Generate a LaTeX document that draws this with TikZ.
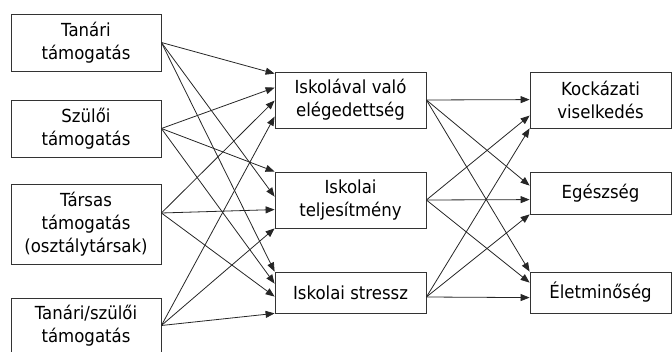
\documentclass[tikz,border=0pt]{standalone}
\usepackage{fontspec}
\setmainfont{DejaVu Sans}[FakeStretch=0.92]
\usetikzlibrary{arrows.meta}
\begin{document}
\begin{tikzpicture}[x=1pt,y=-1pt,
  box/.style={draw=black!80, line width=0.8pt, align=center, inner sep=0pt,
    font=\fontsize{18}{23}\selectfont, text=black},
  lbox/.style={box, minimum width=150pt},
  mbox/.style={box, minimum width=151pt},
  rbox/.style={box, minimum width=141pt},
  arr/.style={draw=black!85, line width=0.8pt, -{Triangle[length=9pt,width=7pt]}},
]
\useasboundingbox (0,0) rectangle (672,352);
% left column
\node[lbox, minimum height=57pt] (L1) at (86,42.5) {Tanári\\támogatás};
\node[lbox, minimum height=57pt] (L2) at (86,128.5) {Szülői\\támogatás};
\node[lbox, minimum height=80pt] (L3) at (86,224) {Társas\\támogatás\\(osztálytársak)};
\node[lbox, minimum height=55pt] (L4) at (86,325.5) {Tanári/szülői\\támogatás};
% middle column
\node[mbox, minimum height=56pt] (M1) at (350.5,100) {Iskolával való\\elégedettség};
\node[mbox, minimum height=56pt] (M2) at (350.5,200) {Iskolai\\teljesítmény};
\node[mbox, minimum height=41pt] (M3) at (350.5,292.5) {Iskolai stressz};
% right column
\node[rbox, minimum height=56pt] (R1) at (600.5,100) {Kockázati\\viselkedés};
\node[rbox, minimum height=42pt] (R2) at (600.5,193) {Egészség};
\node[rbox, minimum height=41pt] (R3) at (600.5,292.5) {Életminőség};
% left -> middle
\draw[arr] (L1.east) -- ([yshift=-2pt]M1.north west);
\draw[arr] (L1.east) -- ([yshift=-25pt]M2.north west);
\draw[arr] (L1.east) -- (M3.north west);
\draw[arr] (L2.east) -- ([yshift=-16pt]M1.north west);
\draw[arr] (L2.east) -- (M2.north west);
\draw[arr] (L2.east) -- ([yshift=-12pt]M3.north west);
\coordinate (L3o) at ([yshift=11pt]L3.east);
\draw[arr] (L3o) -- ([yshift=-29pt]M1.north west);
\draw[arr] (L3o) -- ([yshift=-38pt]M2.north west);
\draw[arr] (L3o) -- ([yshift=-25pt]M3.north west);
\draw[arr] (L4.east) -- ([yshift=-45pt]M1.north west);
\draw[arr] (L4.east) -- (M2.south west);
\draw[arr] (L4.east) -- (M3.south west);
% middle -> right
\draw[arr] (M1.east) -- ([yshift=-28pt]R1.north west);
\draw[arr] (M1.east) -- ([yshift=-14pt]R2.north west);
\draw[arr] (M1.east) -- (R3.north west);
\draw[arr] (M2.east) -- ([yshift=-44pt]R1.north west);
\draw[arr] (M2.east) -- ([yshift=-28pt]R2.north west);
\draw[arr] (M2.east) -- ([yshift=-11pt]R3.north west);
\coordinate (M3o) at ([yshift=-4.5pt]M3.east);
\draw[arr] (M3o) -- (R1.south west);
\draw[arr] (M3o) -- (R2.south west);
\draw[arr] (M3o) -- ([yshift=-26pt]R3.north west);
\end{tikzpicture}
\end{document}
